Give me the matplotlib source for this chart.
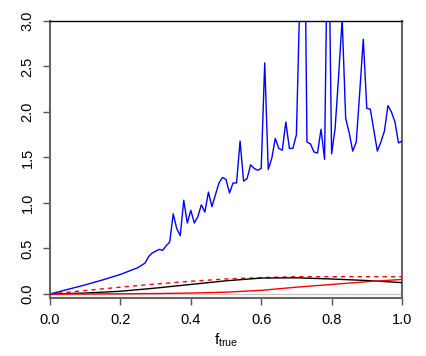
import matplotlib
matplotlib.use("Agg")
import matplotlib.pyplot as plt

plt.rcParams['font.family'] = ['Liberation Sans', 'DejaVu Sans']

# Blue (noisy) series
blue_x = [0.00, 0.05, 0.10, 0.15, 0.20, 0.25, 0.27, 0.28, 0.29, 0.30, 0.31, 0.32,
          0.33, 0.34, 0.35, 0.36, 0.37, 0.38, 0.39, 0.40, 0.41, 0.42, 0.43, 0.44,
          0.45, 0.46, 0.47, 0.48, 0.49, 0.50, 0.51, 0.52, 0.53, 0.54, 0.55, 0.56,
          0.57, 0.58, 0.59, 0.60, 0.61, 0.62, 0.63, 0.64, 0.65, 0.66, 0.67, 0.68,
          0.69, 0.70, 0.71, 0.72, 0.73, 0.74, 0.75, 0.76, 0.77, 0.78, 0.79, 0.80,
          0.81, 0.82, 0.83, 0.84, 0.85, 0.86, 0.87, 0.88, 0.89, 0.90, 0.91, 0.92,
          0.93, 0.94, 0.95, 0.96, 0.97, 0.98, 0.99, 1.00]
blue_y = [0.00, 0.05, 0.10, 0.155, 0.215, 0.29, 0.34, 0.41, 0.45, 0.47, 0.49, 0.48,
          0.53, 0.57, 0.88, 0.72, 0.64, 1.03, 0.78, 0.92, 0.78, 0.85, 0.98, 0.90,
          1.12, 0.96, 1.09, 1.22, 1.28, 1.26, 1.11, 1.22, 1.22, 1.68, 1.24, 1.27,
          1.42, 1.38, 1.36, 1.38, 2.54, 1.37, 1.49, 1.71, 1.60, 1.58, 1.89, 1.60,
          1.60, 1.75, 3.30, 5.50, 1.67, 1.65, 1.56, 1.55, 1.81, 1.48, 4.50, 1.54,
          1.82, 2.40, 3.02, 1.93, 1.77, 1.57, 1.67, 2.22, 2.80, 2.04, 2.03, 1.80,
          1.57, 1.67, 1.79, 2.07, 2.00, 1.89, 1.66, 1.68]

# Smooth curves
curve_x = [0.0, 0.1, 0.2, 0.3, 0.4, 0.5, 0.6, 0.7, 0.8, 0.9, 1.0]
red_dashed_y = [0.0, 0.038, 0.075, 0.11, 0.14, 0.165, 0.18, 0.19, 0.19, 0.19, 0.19]
black_y = [0.0, 0.01, 0.03, 0.065, 0.105, 0.145, 0.175, 0.178, 0.165, 0.148, 0.125]
red_solid_y = [0.0, 0.0, 0.002, 0.005, 0.01, 0.02, 0.04, 0.075, 0.105, 0.135, 0.16]

xticks = [0.0, 0.2, 0.4, 0.6, 0.8, 1.0]
yticks = [0.0, 0.5, 1.0, 1.5, 2.0, 2.5, 3.0]

fig = plt.figure(figsize=(4.27, 3.56), dpi=100)
ax = fig.add_axes([50/427, 1-298/356, 352/427, 277/356])

ax.axhline(0, color='#c8c8c8', lw=1.0, zorder=1)
ax.plot(blue_x, blue_y, color='#0000ff', lw=1.0, zorder=3)
ax.plot(curve_x, red_dashed_y, color='#ff0000', lw=1.0, ls=(0, (3, 3)), zorder=3)
ax.plot(curve_x, black_y, color='black', lw=1.0, zorder=3)
ax.plot(curve_x, red_solid_y, color='#ff0000', lw=1.0, zorder=3)

ax.set_xlim(0, 1)
ax.set_ylim(-0.044, 3.0)
ax.set_xticks(xticks)
ax.set_xticklabels([f"{t:.1f}" for t in xticks])
ax.set_yticks(yticks)
ax.set_yticklabels([f"{t:.1f}" for t in yticks], rotation=90, va='center')

ax.tick_params(axis='both', direction='out', length=5, width=1.0, color='#555555',
               labelsize=10.5, pad=6)
for s in ['left', 'right', 'bottom']:
    ax.spines[s].set_color('#666666')
    ax.spines[s].set_linewidth(1.5)
ax.spines['top'].set_color('black')
ax.spines['top'].set_linewidth(1.0)

ax.set_xlabel(r'f$_{\mathregular{true}}$', fontsize=11, labelpad=3)

fig.savefig('out.png', dpi=100)
